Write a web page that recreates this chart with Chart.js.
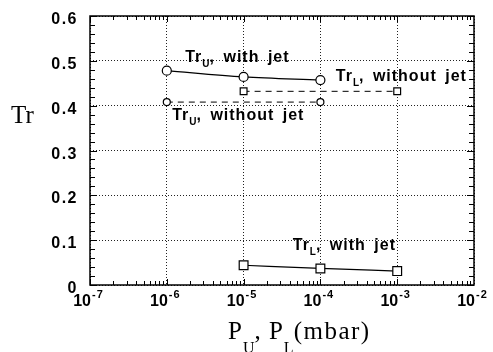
<!DOCTYPE html>
<html>
<head>
<meta charset="utf-8">
<script src="https://cdn.jsdelivr.net/npm/chart.js@4/dist/chart.umd.min.js"></script>
<style>
  html, body { margin: 0; padding: 0; background: #fff; }
  #wrap { width: 493px; height: 352px; }
</style>
</head>
<body>
<div id="wrap"><canvas id="trChart" width="493" height="352"></canvas></div>
<script>
// Pressure (mbar) for each series
const pressUJet = [1e-6, 1e-5, 1e-4];
const pressUNoJet = [1e-6, 1e-4];
const pressLJet = [1e-5, 1e-4, 1e-3];
const pressLNoJet = [1e-5, 1e-3];

// Transmission values
const trUJet = [0.478, 0.464, 0.457];
const trUNoJet = [0.408, 0.408];
const trLJet = [0.044, 0.037, 0.031];
const trLNoJet = [0.432, 0.432];

// Axis ticks
const xDecades = [-7, -6, -5, -4, -3, -2];
const yTicks = [0, 0.1, 0.2, 0.3, 0.4, 0.5, 0.6];
const yTickLabels = ['0', '0.1', '0.2', '0.3', '0.4', '0.5', '0.6'];

const SANS = '"Liberation Sans", Arial, sans-serif';
const SERIF = '"Liberation Serif", "Times New Roman", serif';

function toPoints(xs, ys) {
    return xs.map((x, i) => ({ x: x, y: ys[i] }));
}

// Draws text like "Tr" + subscript + rest
function drawSubText(ctx, x, y, parts) {
    let cx = x;
    parts.forEach(p => {
        ctx.font = p.font;
        ctx.letterSpacing = p.spacing || '0px';
        ctx.wordSpacing = p.word || '0px';
        ctx.fillText(p.text, cx, y + (p.dy || 0));
        cx += ctx.measureText(p.text).width;
    });
    ctx.letterSpacing = '0px';
    ctx.wordSpacing = '0px';
}

// Frame, inward minor ticks, labels
const framePlugin = {
    id: 'frame',
    beforeDatasetsDraw(chart) {
        const { ctx, chartArea: a, scales } = chart;
        ctx.save();
        ctx.strokeStyle = '#000';
        ctx.lineWidth = 1;
        ctx.beginPath();
        for (let e = -7; e < -2; e++) {
            for (let k = 1; k <= 9; k++) {
                const px = Math.round(scales.x.getPixelForValue(k * Math.pow(10, e))) + 0.5;
                const len = k === 1 ? 6 : 4;
                ctx.moveTo(px, a.bottom); ctx.lineTo(px, a.bottom - len);
                ctx.moveTo(px, a.top); ctx.lineTo(px, a.top + len);
            }
        }
        for (let i = 0; i <= 30; i++) {
            const py = Math.round(scales.y.getPixelForValue(i * 0.02)) + 0.5;
            const len = i % 5 === 0 ? 7 : 5;
            ctx.moveTo(a.left, py); ctx.lineTo(a.left + len, py);
            ctx.moveTo(a.right, py); ctx.lineTo(a.right - len, py);
        }
        ctx.stroke();
        ctx.lineWidth = 1.5;
        ctx.strokeRect(a.left, a.top, a.right - a.left, a.bottom - a.top);
        ctx.restore();
    },
    afterDraw(chart) {
        const { ctx, scales } = chart;
        const xs = scales.x, ys = scales.y;
        ctx.save();
        ctx.fillStyle = '#000';
        ctx.textBaseline = 'alphabetic';

        // y tick labels
        ctx.textAlign = 'right';
        ctx.font = 'bold 16px ' + SANS;
        ctx.letterSpacing = '1.5px';
        yTicks.forEach((v, i) => {
            ctx.fillText(yTickLabels[i], 78, ys.getPixelForValue(v) + 8);
        });
        ctx.letterSpacing = '0px';

        // x tick labels, 10 with superscript exponent
        ctx.textAlign = 'left';
        xDecades.forEach(e => {
            const px = xs.getPixelForValue(Math.pow(10, e));
            ctx.font = 'bold 16px ' + SANS;
            const wBase = ctx.measureText('10').width;
            ctx.font = 'bold 11px ' + SANS;
            ctx.letterSpacing = '1px';
            const wExp = ctx.measureText(String(e)).width;
            const x0 = px - (wBase + wExp) / 2 - 2;
            ctx.letterSpacing = '0px';
            ctx.font = 'bold 16px ' + SANS;
            ctx.fillText('10', x0, 306);
            ctx.font = 'bold 11px ' + SANS;
            ctx.letterSpacing = '1px';
            ctx.fillText(String(e), x0 + wBase + 1, 298);
            ctx.letterSpacing = '0px';
        });

        // axis titles
        ctx.font = '25px ' + SERIF;
        ctx.fillText('Tr', 11, 123);
        drawSubText(ctx, 228, 339, [
            { text: 'P', font: '25px ' + SERIF, spacing: '1px' },
            { text: 'U', font: '16px ' + SERIF, dy: 14 },
            { text: ', ', font: '25px ' + SERIF, spacing: '1px' },
            { text: 'P', font: '25px ' + SERIF, spacing: '1px' },
            { text: 'L', font: '16px ' + SERIF, dy: 14 },
            { text: '(mbar)', font: '25px ' + SERIF, spacing: '1.5px' }
        ]);

        // series labels, anchored in data coordinates
        const lab = (xv, yv, sub, rest) => {
            drawSubText(ctx, xs.getPixelForValue(xv), ys.getPixelForValue(yv), [
                { text: 'Tr', font: 'bold 16px ' + SANS, spacing: '1px' },
                { text: sub, font: 'bold 10px ' + SANS, dy: 5 },
                { text: rest, font: 'bold 16px ' + SANS, spacing: '1px', word: '3px' }
            ]);
        };
        lab(Math.pow(10, -5.76), 0.497, 'U', ', with jet');
        lab(Math.pow(10, -5.93), 0.369, 'U', ', without jet');
        lab(Math.pow(10, -3.80), 0.456, 'L', ', without jet');
        lab(Math.pow(10, -4.36), 0.078, 'L', ', with jet');
        ctx.restore();
    }
};

const lineStyle = {
    borderColor: '#000',
    backgroundColor: '#fff',
    pointBorderColor: '#000',
    pointBackgroundColor: '#fff',
    pointBorderWidth: 1.2,
    borderWidth: 1.2,
    showLine: true,
    cubicInterpolationMode: 'monotone'
};

new Chart(document.getElementById('trChart'), {
    type: 'scatter',
    data: {
        datasets: [
            Object.assign({ label: 'TrU, with jet', data: toPoints(pressUJet, trUJet),
                pointStyle: 'circle', pointRadius: 4.5 }, lineStyle),
            Object.assign({}, lineStyle, { label: 'TrU, without jet', data: toPoints(pressUNoJet, trUNoJet),
                pointStyle: 'circle', pointRadius: 3.5, borderDash: [6, 5], borderWidth: 1 }),
            Object.assign({}, lineStyle, { label: 'TrL, without jet', data: toPoints(pressLNoJet, trLNoJet),
                pointStyle: 'rect', pointRadius: 4.8, borderDash: [6, 5], borderWidth: 1 }),
            Object.assign({ label: 'TrL, with jet', data: toPoints(pressLJet, trLJet),
                pointStyle: 'rect', pointRadius: 6.2 }, lineStyle)
        ]
    },
    options: {
        responsive: false,
        animation: false,
        layout: { padding: { top: 16, right: 19, left: 0, bottom: 0 } },
        plugins: { legend: { display: false }, tooltip: { enabled: false } },
        scales: {
            x: {
                type: 'logarithmic',
                min: 1e-7,
                max: 1e-2,
                afterBuildTicks: s => { s.ticks = xDecades.map(e => ({ value: Math.pow(10, e) })); },
                afterFit: s => { s.height = 67; },
                ticks: { display: false },
                grid: { color: '#222', lineWidth: 1, drawTicks: false },
                border: { display: false, dash: [1, 2] }
            },
            y: {
                min: 0,
                max: 0.6,
                afterBuildTicks: s => { s.ticks = yTicks.map(v => ({ value: v })); },
                afterFit: s => { s.width = 90; },
                ticks: { display: false },
                grid: { color: '#222', lineWidth: 1, drawTicks: false },
                border: { display: false, dash: [1, 2] }
            }
        }
    },
    plugins: [framePlugin]
});
</script>
</body>
</html>
